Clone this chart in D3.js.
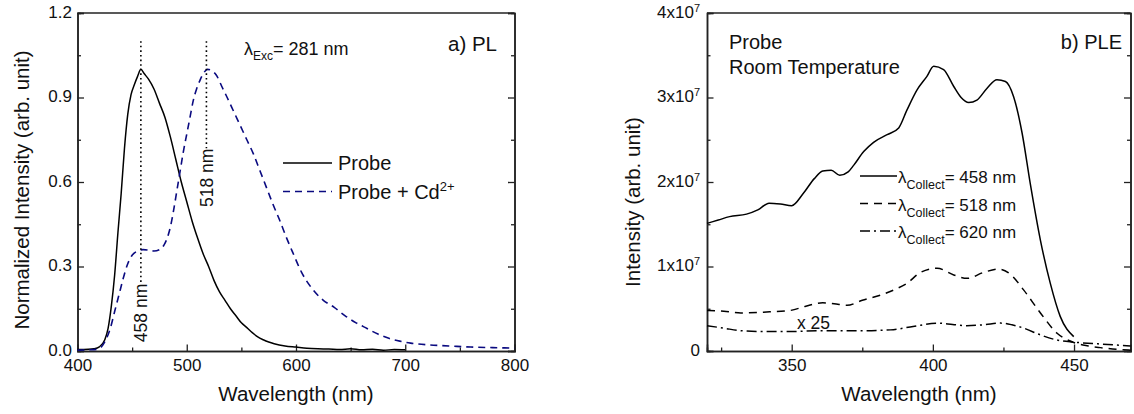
<!DOCTYPE html>
<html>
<head>
<meta charset="utf-8">
<style>
    body { margin: 0; background: #fff; }
    svg { font-family: 'Liberation Sans', Arial, sans-serif; }
    .axis .domain { stroke: #222; stroke-width: 1.5px; }
    .axis .tick line { stroke: #222; stroke-width: 1.3px; }
    .axis .tick text { font-size: 17px; fill: #111; }
    .lbl { fill: #111; }
</style>
</head>
<body>
<svg width="1134" height="414"></svg>
<script src="https://d3js.org/d3.v7.min.js"></script>
<script>
// ---------- data: a) PL, normalized intensity vs wavelength (nm)
let probe = [[400,0.005],[410,0.006],[415,0.008],[420,0.015],[425,0.04],[428,0.08],[431,0.16],[434,0.27],[437,0.42],[440,0.56],[443,0.72],[446,0.84],[449,0.91],[452,0.945],[455,0.975],[458,1.0],[461,0.985],[465,0.965],[470,0.93],[475,0.88],[480,0.83],[485,0.76],[490,0.68],[495,0.6],[500,0.53],[505,0.46],[510,0.4],[515,0.345],[520,0.3],[525,0.25],[530,0.21],[535,0.18],[540,0.15],[545,0.125],[550,0.1],[555,0.083],[560,0.065],[565,0.05],[570,0.04],[575,0.032],[580,0.026],[590,0.018],[600,0.014],[610,0.01],[620,0.008],[630,0.007],[640,0.005],[650,0.008],[660,0.004],[670,0.006],[680,0.003],[690,0.005],[700,0.004]]
let probeCd = [[400,0.003],[410,0.004],[418,0.006],[422,0.015],[426,0.04],[430,0.08],[434,0.14],[438,0.2],[442,0.26],[446,0.31],[450,0.34],[455,0.355],[460,0.36],[465,0.358],[470,0.355],[475,0.36],[479,0.375],[482,0.4],[485,0.44],[488,0.5],[491,0.57],[494,0.64],[497,0.71],[500,0.77],[503,0.83],[506,0.89],[509,0.93],[512,0.96],[516,0.99],[519,1.0],[523,0.995],[527,0.98],[532,0.94],[537,0.9],[543,0.85],[549,0.8],[555,0.75],[561,0.7],[567,0.64],[573,0.58],[579,0.52],[585,0.465],[591,0.405],[597,0.35],[605,0.28],[615,0.22],[625,0.18],[635,0.155],[645,0.125],[655,0.1],[665,0.08],[675,0.06],[685,0.045],[695,0.035],[705,0.028],[720,0.022],[740,0.018],[760,0.014],[780,0.012],[800,0.01]]
let peaksPL = [458, 518]
let plXTicks = [400, 500, 600, 700, 800]
let plYTicks = [0, 0.3, 0.6, 0.9, 1.2]

// ---------- data: b) PLE, intensity (x10^7) vs wavelength (nm)
let ple458 = [[320,1.51],[324,1.55],[328,1.59],[334,1.62],[338,1.67],[342,1.75],[346,1.74],[350,1.72],[354,1.86],[358,2.04],[361,2.13],[364,2.14],[367,2.08],[370,2.12],[372,2.2],[375.5,2.36],[379,2.47],[383.8,2.56],[387.9,2.64],[390.8,2.85],[394.4,3.09],[397.9,3.25],[400.3,3.37],[403.8,3.33],[407.4,3.13],[410,3.0],[412.7,2.94],[415.6,2.97],[419.2,3.11],[422.7,3.21],[425.7,3.19],[428.6,3.01],[431.6,2.58],[434.5,1.98],[438.1,1.31],[441.6,0.8],[445.1,0.41],[449.9,0.17]]
let ple518 = [[320,0.48],[326,0.47],[332,0.45],[340,0.46],[349.5,0.48],[355,0.53],[361,0.57],[365,0.56],[369.6,0.54],[375,0.6],[381.4,0.66],[386,0.72],[390.8,0.8],[395.6,0.93],[401.5,0.98],[407.4,0.9],[412.1,0.86],[418,0.93],[423.3,0.97],[427.4,0.91],[432.2,0.72],[438.1,0.45],[444,0.21],[449.9,0.1],[455,0.06],[459.3,0.04],[465,0.02],[470,0.01]]
let ple620 = [[320,0.3],[326,0.27],[332,0.24],[340,0.23],[350,0.23],[360,0.24],[367,0.24],[375,0.24],[385,0.25],[393,0.29],[401.5,0.33],[407,0.315],[412,0.3],[418,0.31],[424,0.33],[428,0.31],[432.2,0.27],[438.1,0.19],[444,0.13],[450,0.105],[459.3,0.083],[470,0.06]]
let pleXTicks = [350, 400, 450]
let pleYTicks = [0, 1, 2, 3, 4]

let svg = d3.select("svg")

// scales
let xL = d3.scaleLinear().domain([400, 800]).range([77.5, 514.5])
let yL = d3.scaleLinear().domain([0, 1.2]).range([351, 13])
let xR = d3.scaleLinear().domain([320, 470]).range([707, 1130.5])
let yR = d3.scaleLinear().domain([0, 4]).range([351, 13])

function drawFrame(x, y, xMajor, xMinor, yMajor, yMinor, yFmt, yPad) {
    let x0 = x.range()[0], x1 = x.range()[1], y0 = y.range()[0], y1 = y.range()[1]
    // minor ticks first
    svg.append("g").attr("class", "axis").attr("transform", `translate(0,${y0})`)
        .call(d3.axisBottom(x).tickValues(xMinor).tickSize(-3.5).tickFormat(""))
    svg.append("g").attr("class", "axis").attr("transform", `translate(${x0},0)`)
        .call(d3.axisLeft(y).tickValues(yMinor).tickSize(-3.5).tickFormat(""))
    svg.append("g").attr("class", "axis").attr("transform", `translate(${x1},0)`)
        .call(d3.axisRight(y).tickValues(yMinor).tickSize(-3.5).tickFormat(""))
    svg.append("g").attr("class", "axis").attr("transform", `translate(${x1},0)`)
        .call(d3.axisRight(y).tickValues(yMajor).tickSize(-6.5).tickFormat(""))
    svg.append("g").attr("class", "axis").attr("transform", `translate(0,${y0})`)
        .call(d3.axisBottom(x).tickValues(xMajor).tickSize(-6.5).tickPadding(7.5).tickFormat(d3.format("d")))
    let ya = svg.append("g").attr("class", "axis").attr("transform", `translate(${x0},0)`)
        .call(d3.axisLeft(y).tickValues(yMajor).tickSize(-6.5).tickPadding(yPad).tickFormat(yFmt))
    ya.selectAll(".tick text").attr("dy", "0.26em")
    // top border
    svg.append("line").attr("x1", x0).attr("x2", x1).attr("y1", y1).attr("y2", y1)
        .style("stroke", "#222").style("stroke-width", "1.5px")
    return ya
}

// ---------- panel a
drawFrame(xL, yL, plXTicks, [450, 550, 650, 750], plYTicks, [0.15, 0.45, 0.75, 1.05], d3.format(".1f"), 5.5)

let lineL = d3.line().x(d => xL(d[0])).y(d => yL(d[1])).curve(d3.curveMonotoneX)

svg.append("path").attr("d", lineL(probe))
    .style("fill", "none").style("stroke", "#000").style("stroke-width", "1.5px")
svg.append("path").attr("d", lineL(probeCd))
    .style("fill", "none").style("stroke", "#0a0a80").style("stroke-width", "1.6px")
    .style("stroke-dasharray", "7,5")

// peak markers
let peakEnd = [0.24, 0.72]
let peakLbl = [0.135, 0.615]
peaksPL.forEach(function (p, i) {
    svg.append("line")
        .attr("x1", xL(p)).attr("x2", xL(p))
        .attr("y1", yL(1.1)).attr("y2", yL(peakEnd[i]))
        .style("stroke", "#000").style("stroke-width", "1.6px").style("stroke-dasharray", "1.6,3")
    svg.append("text").attr("class", "lbl")
        .attr("transform", `translate(${xL(p)},${yL(peakLbl[i])}) rotate(-90)`)
        .attr("text-anchor", "middle").attr("dy", "0.36em")
        .style("font-size", "17.5px")
        .text(p + " nm")
})

let exc = svg.append("text").attr("class", "lbl").attr("x", 244).attr("y", 55).style("font-size", "18px")
exc.append("tspan").text("λ")
exc.append("tspan").attr("dy", 5).style("font-size", "12px").text("Exc")
exc.append("tspan").attr("dy", -5).text("= 281 nm")

svg.append("text").attr("class", "lbl").attr("x", 497).attr("y", 51).attr("text-anchor", "end")
    .style("font-size", "20.5px").text("a) PL")

// legend a
svg.append("line").attr("x1", 283).attr("x2", 332).attr("y1", 163).attr("y2", 163)
    .style("stroke", "#000").style("stroke-width", "1.5px")
svg.append("line").attr("x1", 283).attr("x2", 332).attr("y1", 191.5).attr("y2", 191.5)
    .style("stroke", "#0a0a80").style("stroke-width", "1.6px").style("stroke-dasharray", "7,5")
svg.append("text").attr("class", "lbl").attr("x", 338).attr("y", 170).style("font-size", "20px").text("Probe")
let lg2 = svg.append("text").attr("class", "lbl").attr("x", 338).attr("y", 199).style("font-size", "20px")
lg2.append("tspan").text("Probe + Cd")
lg2.append("tspan").attr("dy", -8).style("font-size", "13px").text("2+")

svg.append("text").attr("class", "lbl").attr("x", 296).attr("y", 401).attr("text-anchor", "middle")
    .style("font-size", "20.5px").text("Wavelength (nm)")
svg.append("text").attr("class", "lbl")
    .attr("transform", "translate(29,190) rotate(-90)").attr("text-anchor", "middle")
    .style("font-size", "20.5px").text("Normalized Intensity (arb. unit)")

// ---------- panel b
let yaR = drawFrame(xR, yR, pleXTicks, [325, 375, 425], pleYTicks, [0.5, 1.5, 2.5, 3.5], d => d === 0 ? "0" : d + "x10", 7)
yaR.selectAll(".tick text").each(function (d) {
    if (d !== 0) {
        d3.select(this).append("tspan").attr("dy", "-0.55em").style("font-size", "11px").text("7")
    }
})

let lineR = d3.line().x(d => xR(d[0])).y(d => yR(d[1])).curve(d3.curveMonotoneX)
svg.append("path").attr("d", lineR(ple458))
    .style("fill", "none").style("stroke", "#000").style("stroke-width", "1.5px")
svg.append("path").attr("d", lineR(ple518))
    .style("fill", "none").style("stroke", "#000").style("stroke-width", "1.5px").style("stroke-dasharray", "8,6")
svg.append("path").attr("d", lineR(ple620))
    .style("fill", "none").style("stroke", "#000").style("stroke-width", "1.5px").style("stroke-dasharray", "10,4,2,4")

svg.append("text").attr("class", "lbl").attr("x", 797).attr("y", 329).style("font-size", "17.5px").text("x 25")

svg.append("text").attr("class", "lbl").attr("x", 729).attr("y", 49).style("font-size", "20px").text("Probe")
svg.append("text").attr("class", "lbl").attr("x", 729).attr("y", 74).style("font-size", "20px").text("Room Temperature")
svg.append("text").attr("class", "lbl").attr("x", 1122).attr("y", 49).attr("text-anchor", "end")
    .style("font-size", "20px").text("b) PLE")

// legend b
let collect = [458, 518, 620]
let dashes = ["none", "8,6", "10,4,2,4"]
let lgY = [176, 203.5, 231]
collect.forEach(function (c, i) {
    svg.append("line").attr("x1", 860).attr("x2", 897).attr("y1", lgY[i]).attr("y2", lgY[i])
        .style("stroke", "#000").style("stroke-width", "1.5px").style("stroke-dasharray", dashes[i])
    let t = svg.append("text").attr("class", "lbl").attr("x", 898).attr("y", lgY[i] + 7).style("font-size", "17px")
    t.append("tspan").text("λ")
    t.append("tspan").attr("dy", 6).style("font-size", "12.5px").text("Collect")
    t.append("tspan").attr("dy", -6).text("= " + c + " nm")
})

svg.append("text").attr("class", "lbl").attr("x", 919).attr("y", 401).attr("text-anchor", "middle")
    .style("font-size", "20.5px").text("Wavelength (nm)")
svg.append("text").attr("class", "lbl")
    .attr("transform", "translate(640,202) rotate(-90)").attr("text-anchor", "middle")
    .style("font-size", "20.5px").text("Intensity (arb. unit)")
</script>
</body>
</html>
